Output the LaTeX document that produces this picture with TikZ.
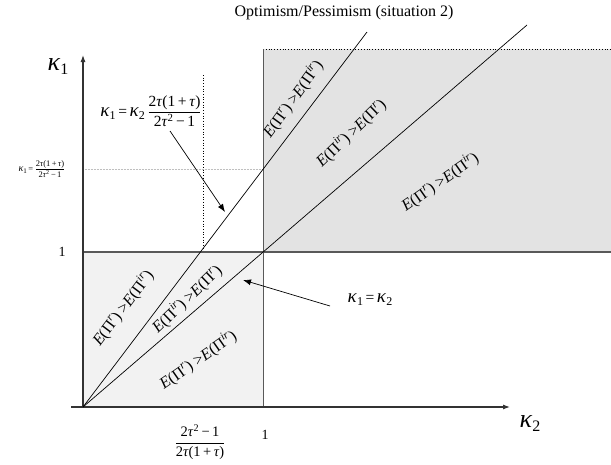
\documentclass[tikz,border=0pt]{standalone}
\usepackage{fontspec}
\setmainfont{Liberation Serif}
\usetikzlibrary{arrows.meta}
\newcommand{\ta}{\textit{τ}}
\newcommand{\kp}{\textit{κ}}
\newcommand{\kap}[3]{{\fontsize{#1}{#1}\selectfont\kp}{\fontsize{#2}{#2}\selectfont\raisebox{-#3}{1}}}
\newcommand{\kapb}[3]{{\fontsize{#1}{#1}\selectfont\kp}{\fontsize{#2}{#2}\selectfont\raisebox{-#3}{2}}}
\newcommand{\frA}{\displaystyle\frac{\mbox{2\ta(1\,+\,\ta)}}{\mbox{2\ta\textsuperscript{2}\,−\,1}}}
\newcommand{\frB}{\displaystyle\frac{\mbox{2\ta\textsuperscript{2}\,−\,1}}{\mbox{2\ta(1\,+\,\ta)}}}
\newcommand{\PiR}{\textit{E}(Π\textsuperscript{\textit{r}})}
\newcommand{\PiIR}{\textit{E}(Π\textsuperscript{\textit{ir}})}
\begin{document}
\begin{tikzpicture}[x=1pt,y=-1pt,
  axisline/.style={draw=black!80, line width=1.1pt, -{Latex[length=7pt,width=5pt]}},
  diag/.style={draw=black, line width=0.7pt},
  pointer/.style={draw=black, line width=0.7pt, -{Latex[length=8pt,width=6pt]}},
  region/.style={font=\fontsize{16}{18}\selectfont, inner sep=0pt},
  lbl/.style={inner sep=0pt},
  ]
\useasboundingbox (0,0) rectangle (611,464);
% coordinates
\coordinate (O) at (83,407);
\coordinate (Xs) at (71,407);
\coordinate (Xe) at (510,407);
\coordinate (Ye) at (83,55);
\coordinate (U) at (263,252);
\coordinate (UB) at (263,407);
\coordinate (UT) at (263,49);
\coordinate (RT) at (611,49);
\coordinate (RM) at (611,252);
\coordinate (LM) at (83,252);
\coordinate (D1) at (527,25);
\coordinate (D2) at (367,32);
\coordinate (VdT) at (203,75);
\coordinate (VdB) at (203,252);
\coordinate (HdL) at (83,169);
\coordinate (HdR) at (263,169);
% fills
\fill[black!11] (UT) rectangle (RM);
\fill[black!5] (LM) rectangle (UB);
\draw[dotted, line width=0.8pt] (UT) -- (RT);
\draw[black!25, densely dotted, line width=0.5pt] (HdL) -- (HdR);
\draw[black, dotted, line width=0.7pt] (VdT) -- (VdB);
\draw[black!65, line width=1.6pt] (LM) -- (RM);
\draw[black!65, line width=1pt] (UB) -- (UT);
% axes
\draw[axisline] (Xs) -- (Xe);
\draw[axisline] (O) -- (Ye);
% diagonals
\draw[diag] (O) -- (D1);
\draw[diag] (O) -- (D2);
% title
\node[lbl, font=\fontsize{16}{18}\selectfont] (title) at (344,13) {Optimism/Pessimism (situation 2)};
% axis labels
\node[lbl] (k1) at (58,67) {\kap{26}{16}{4pt}};
\node[lbl] (k2) at (530,424) {\kapb{26}{16}{4pt}};
\node[lbl, font=\fontsize{14}{16}\selectfont] (one1) at (62,252) {1};
\node[lbl, font=\fontsize{14}{16}\selectfont] (one2) at (265,435) {1};
\node[lbl, font=\fontsize{14.5}{16}\selectfont] (fb) at (200,442) {$\frB$};
\node[lbl, font=\fontsize{8.5}{10}\selectfont] (fl) at (42,169) {\kap{10}{7}{2pt}\,=\,$\frA$};
% annotations
\node[lbl, font=\fontsize{15.5}{17}\selectfont] (a1) at (151,111) {\kap{19}{12}{3pt}\,=\,\kapb{19}{12}{3pt}\,$\frA$};
\coordinate (a1s) at (170,131);
\coordinate (a1t) at (225,212);
\draw[pointer] (a1s) -- (a1t);
\node[lbl, font=\fontsize{15.5}{17}\selectfont] (a2) at (370,300) {\kap{19}{12}{3pt}\,=\,\kapb{19}{12}{3pt}};
\coordinate (a2s) at (330,306);
\coordinate (a2t) at (243,280);
\draw[pointer] (a2s) -- (a2t);
% region labels
\node[region, rotate=53] (ll1) at (123,308) {\PiR\ >\PiIR};
\node[region, rotate=44] (ll2) at (187,299) {\PiIR\ >\PiR};
\node[region, rotate=35] (ll3) at (198,360) {\PiR\ >\PiIR};
\node[region, rotate=54] (ur1) at (293,99) {\PiR\ >\PiIR};
\node[region, rotate=44] (ur2) at (351,133) {\PiIR\ >\PiR};
\node[region, rotate=35] (ur3) at (440,182) {\PiR\ >\PiIR};
\end{tikzpicture}
\end{document}
